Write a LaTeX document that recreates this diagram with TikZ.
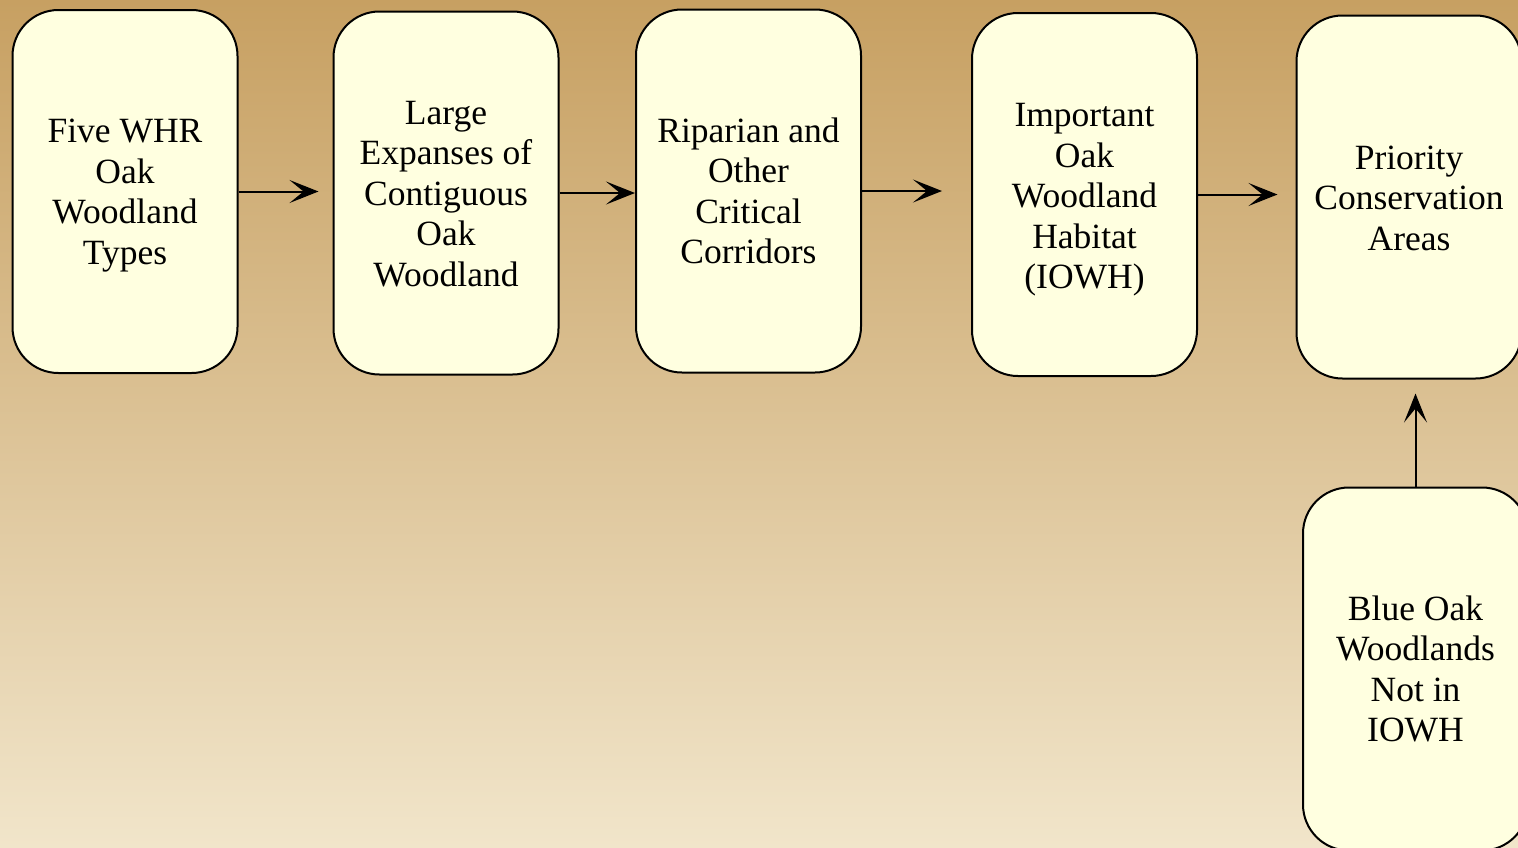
\documentclass[tikz,border=0pt]{standalone}
\usepackage{fontspec}
\setmainfont{Liberation Serif}
\usetikzlibrary{arrows.meta}
\definecolor{bgtop}{RGB}{199,160,98}
\definecolor{bgbot}{RGB}{241,229,202}
\definecolor{boxfill}{RGB}{255,255,224}
\tikzset{
  stagebox/.style={draw=black, line width=2pt, fill=boxfill, rounded corners=46pt,
    minimum width=225pt, minimum height=363pt, inner sep=0pt},
  stagetext/.style={align=center, inner sep=0pt,
    font=\fontsize{35.5}{40.5}\selectfont},
  flow/.style={draw=black, line width=2pt,
    -{Stealth[length=29pt, width=23pt, inset=14pt]}}
}
\begin{document}
\begin{tikzpicture}[x=1pt, y=-1pt]
  \useasboundingbox (0,0) rectangle (1518,847);
  \clip (0,0) rectangle (1518,847);
  \shade[top color=bgtop, bottom color=bgbot] (0,0) rectangle (1518,847);

  % rounded stage boxes
  \node[stagebox] (five)  at (125,191.5)    {};
  \node[stagebox] (large) at (446,193)      {};
  \node[stagebox] (ripa)  at (748.5,191)    {};
  \node[stagebox] (iowh)  at (1084.5,194.5) {};
  \node[stagebox] (prio)  at (1409,197)     {};
  \node[stagebox] (blue)  at (1415.5,669)   {};

  % their labels
  \node[stagetext] (five-t)  at ([yshift=-4pt]five.center)   {Five WHR\\Oak\\Woodland\\Types};
  \node[stagetext] (large-t) at ([yshift=-1pt]large.center)  {Large\\Expanses of\\Contiguous\\Oak\\Woodland};
  \node[stagetext] (ripa-t)  at (ripa.center)                {Riparian and\\Other\\Critical\\Corridors};
  \node[stagetext] (iowh-t)  at ([yshift=-5.5pt]iowh.center) {Important\\Oak\\Woodland\\Habitat\\(IOWH)};
  \node[stagetext] (prio-t)  at ([yshift=-1pt]prio.center)   {Priority\\Conservation\\Areas};
  \node[stagetext] (blue-t)  at (blue.center)                {Blue Oak\\Woodlands\\Not in\\IOWH};

  % flow between stages
  \draw[flow, shorten >=14pt] (five.east) -- (large.west |- five.east);
  \draw[flow, shorten >=0pt]  (large.east) -- (ripa.west |- large.east);
  \draw[flow, shorten >=29pt] (ripa.east) -- (iowh.west |- ripa.east);
  \draw[flow, shorten >=18pt] (iowh.east) -- (prio.west |- iowh.east);
  \draw[flow, shorten >=14pt] (blue.north) -- (prio.south -| blue.north);
\end{tikzpicture}
\end{document}
